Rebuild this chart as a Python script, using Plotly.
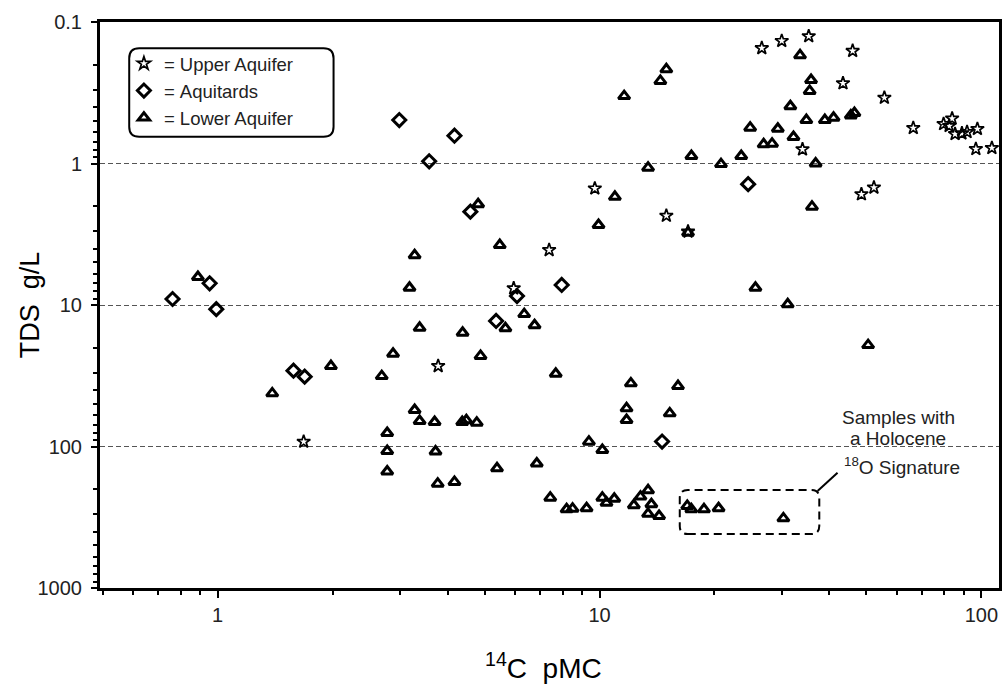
import plotly.graph_objects as go

# 14C activity (pMC) and total dissolved solids (g/L) per sample group
upper_pmc = [26.6, 30.0, 35.3, 46.0, 43.4, 55.7, 66.3, 79.6, 83.8, 82.3, 85.3, 88.9, 91.7,
             97.6, 96.7, 106.5, 34.0, 48.5, 52.3, 14.96, 17.05, 9.72, 7.38, 5.96, 3.78, 1.68]
upper_tds = [0.153, 0.136, 0.126, 0.160, 0.271, 0.343, 0.561, 0.526, 0.481, 0.543, 0.619, 0.612, 0.599,
             0.570, 0.790, 0.777, 0.794, 1.65, 1.48, 2.34, 3.03, 1.50, 4.09, 7.62, 27.0, 92.5]

aquitard_pmc = [2.99, 4.17, 3.58, 4.59, 24.5, 6.08, 7.96, 5.36, 0.762, 0.953, 0.992, 1.58, 1.69, 14.58]
aquitard_tds = [0.493, 0.636, 0.965, 2.19, 1.40, 8.64, 7.22, 12.97, 9.07, 7.02, 10.7, 29.1, 32.1, 92.2]

lower_pmc = [14.96, 14.43, 11.6, 13.4, 10.97, 9.94, 4.81, 5.48, 33.5, 35.8, 35.5, 31.6, 34.8, 38.9,
             41.0, 45.5, 46.5, 24.8, 29.3, 32.2, 26.9, 28.3, 17.4, 20.8, 23.5, 36.8, 36.0, 17.05,
             25.6, 31.1, 50.5, 0.888, 3.28, 3.18, 3.38, 2.88, 1.98, 2.69, 1.39, 3.28, 3.38, 3.70,
             4.37, 4.48, 4.77, 4.38, 4.88, 2.78, 2.78, 2.78, 3.72, 3.77, 4.17, 6.35, 5.67, 6.76,
             7.68, 12.08, 16.05, 11.77, 11.77, 15.27, 9.38, 10.17, 5.39, 6.85, 7.43, 8.20, 8.50,
             9.25, 10.17, 10.43, 10.93, 12.30, 12.80, 13.40, 13.67, 13.40, 14.32, 16.97, 17.39,
             18.77, 20.50, 30.3]
lower_tds = [0.216, 0.261, 0.334, 1.07, 1.72, 2.72, 1.94, 3.77, 0.172, 0.257, 0.307, 0.394, 0.493, 0.493,
             0.475, 0.458, 0.440, 0.558, 0.568, 0.650, 0.732, 0.724, 0.885, 1.01, 0.885, 1.00, 2.02, 3.08,
             7.55, 9.89, 19.2, 6.34, 4.45, 7.55, 14.5, 22.1, 27.0, 31.8, 42.1, 55.2, 66.0, 67.1,
             67.1, 65.3, 67.9, 15.7, 22.9, 80.3, 107.6, 150.2, 108.5, 183, 178, 11.6, 14.6, 13.9,
             30.6, 35.8, 37.4, 53.7, 65.0, 58.3, 92.5, 105.9, 142.6, 131.9, 230, 278, 275,
             273, 230, 250, 234, 260, 226, 204, 256, 299, 310, 263, 278,
             278, 273, 322]

FONT = "Liberation Sans, Arial, sans-serif"

fig = go.Figure()
fig.add_trace(go.Scatter(
    x=upper_pmc, y=upper_tds, mode="markers", name="=\u00a0Upper Aquifer",
    marker=dict(symbol="star-open", size=10, color="black", line=dict(width=1.7, color="black")),
))
fig.add_trace(go.Scatter(
    x=aquitard_pmc, y=aquitard_tds, mode="markers", name="=\u00a0Aquitards",
    marker=dict(symbol="diamond-open", size=10, color="black", line=dict(width=3, color="black")),
))
fig.add_trace(go.Scatter(
    x=lower_pmc, y=lower_tds, mode="markers", name="=\u00a0Lower Aquifer",
    marker=dict(symbol="triangle-up-open", size=10, color="black", line=dict(width=3, color="black")),
))


def rounded_box(x0, y0, x1, y1, rx, ry):
    return (f"M {x0 + rx},{y0} L {x1 - rx},{y0} Q {x1},{y0} {x1},{y0 + ry} "
            f"L {x1},{y1 - ry} Q {x1},{y1} {x1 - rx},{y1} L {x0 + rx},{y1} "
            f"Q {x0},{y1} {x0},{y1 - ry} L {x0},{y0 + ry} Q {x0},{y0} {x0 + rx},{y0} Z")


shapes = [
    # legend frame
    dict(type="path", xref="paper", yref="paper",
         path=rounded_box(0.0325, 0.7973, 0.2598, 0.9535, 0.0111, 0.0177),
         line=dict(color="black", width=2)),
    # dashed outline around the Holocene samples
    dict(type="path", xref="paper", yref="paper",
         path=rounded_box(0.6449, 0.0954, 0.8001, 0.1731, 0.0089, 0.0141),
         line=dict(color="black", width=2, dash="8px,5px")),
    # leader to the label
    dict(type="line", xref="paper", yref="paper", x0=0.7982, y0=0.1714, x1=0.8204, y1=0.2037,
         line=dict(color="black", width=2)),
]

annotations = [
    dict(text="TDS\u00a0\u00a0g/L", xref="paper", yref="paper", x=-0.0776, y=0.5,
         textangle=-90, showarrow=False, font=dict(size=27, color="black", family=FONT),
         xanchor="center", yanchor="middle"),
    dict(text="<sup>14</sup>C\u00a0\u00a0pMC", xref="paper", yref="paper", x=0.493, y=-0.137,
         showarrow=False, font=dict(size=28, color="black", family=FONT),
         xanchor="center", yanchor="middle"),
    dict(text="Samples with", xref="paper", yref="paper", x=0.888, y=0.302,
         showarrow=False, font=dict(size=19, color="#222", family=FONT), xanchor="center", yanchor="middle"),
    dict(text="a Holocene", xref="paper", yref="paper", x=0.888, y=0.265,
         showarrow=False, font=dict(size=19, color="#222", family=FONT), xanchor="center", yanchor="middle"),
    dict(text="<sup>18</sup>O Signature", xref="paper", yref="paper", x=0.892, y=0.216,
         showarrow=False, font=dict(size=19, color="#222", family=FONT), xanchor="center", yanchor="middle"),
]

fig.update_layout(
    width=1004, height=685,
    margin=dict(l=100, r=2, t=22, b=97),
    paper_bgcolor="white", plot_bgcolor="white",
    font=dict(family=FONT, color="#222"),
    showlegend=True,
    legend=dict(x=0.0266, y=0.9594, xanchor="left", yanchor="top",
                bgcolor="rgba(0,0,0,0)", borderwidth=0,
                font=dict(size=18.5, color="#222", family=FONT),
                itemsizing="trace", traceorder="normal"),
    shapes=shapes,
    annotations=annotations,
)

fig.update_xaxes(
    type="log", range=[-0.308, 2.046], dtick=1, exponentformat="none",
    showline=True, linecolor="black", linewidth=3, mirror=True,
    ticks="outside", ticklen=7, tickwidth=2, tickcolor="black",
    tickfont=dict(size=20, color="#222", family=FONT),
    showgrid=False, zeroline=False,
    minor=dict(dtick="D1", ticks="outside", ticklen=4, tickwidth=2, tickcolor="black", showgrid=False),
)
fig.update_yaxes(
    type="log", range=[3, -1], dtick=1, exponentformat="none",
    showline=True, linecolor="black", linewidth=3, mirror=True,
    ticks="outside", ticklen=6, tickwidth=2, tickcolor="black", ticklabelstandoff=5,
    tickfont=dict(size=20, color="#222", family=FONT),
    showgrid=True, gridcolor="#555", gridwidth=1, griddash="5px,3px", zeroline=False,
    minor=dict(dtick="D1", ticks="outside", ticklen=4, tickwidth=2, tickcolor="black", showgrid=False),
)

fig.write_html("out.html")
